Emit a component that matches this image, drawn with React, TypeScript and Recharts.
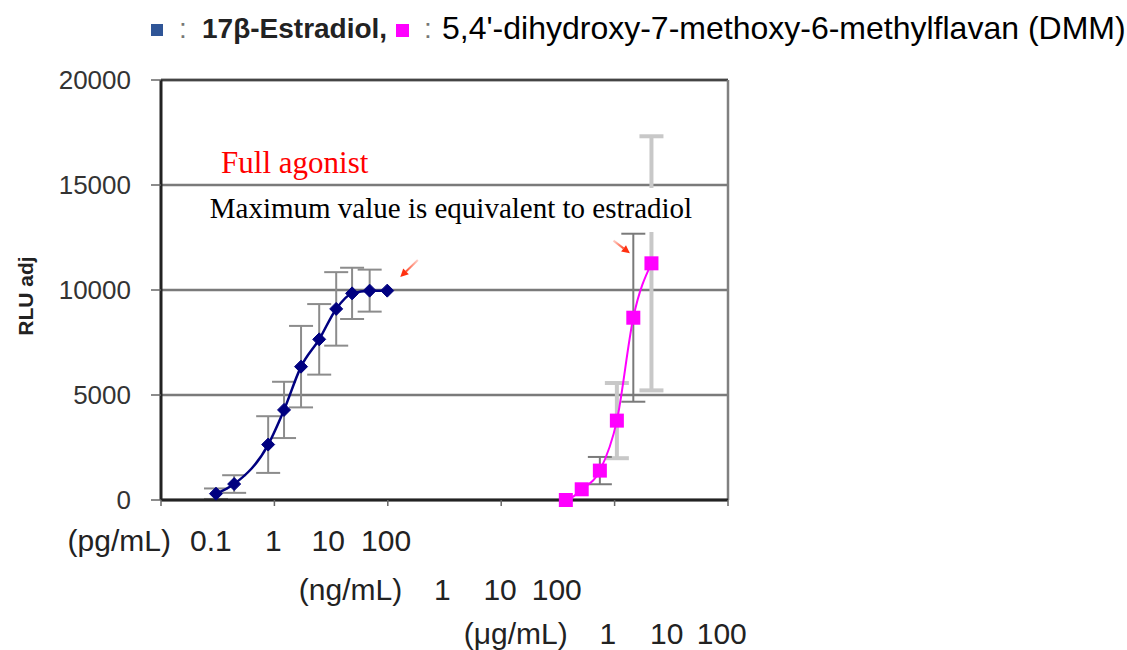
import React from 'react';
import {
  ComposedChart,
  Line,
  XAxis,
  YAxis,
  CartesianGrid,
  ErrorBar,
  ReferenceLine,
  ReferenceDot,
} from 'recharts';

// x values are in decade units along the (schematic) log concentration axis, 0..10
const e2X = [0.97, 1.29, 1.89, 2.17, 2.47, 2.79, 3.09, 3.37, 3.68, 3.99];
const e2Y = [300, 760, 2640, 4290, 6350, 7650, 9100, 9840, 9970, 9970];
const e2Err = [250, 420, 1350, 1340, 1940, 1680, 1750, 1220, 1000, null];

const dmmX = [6.54, 7.14, 7.42, 7.74, 8.04, 8.33, 8.65];
const dmmY = [0, 0, 510, 1400, 3780, 8680, 11270];
const dmmErrDark = [null, null, null, 650, null, 4000, null];
const dmmErrLight = [null, null, null, null, 1790, null, 6050];

const yTicks = [0, 5000, 10000, 15000, 20000];
const xTicks = [0, 2, 4, 6, 8, 10];

const pgPos = [0.88, 1.98, 2.95, 3.97];
const pgLab = ['0.1', '1', '10', '100'];
const ngPos = [4.96, 5.98, 6.98];
const ngLab = ['1', '10', '100'];
const ugPos = [7.88, 8.92, 9.89];
const ugLab = ['1', '10', '100'];

const legendE2 = '17β-Estradiol,';
const legendDMM = "5,4'-dihydroxy-7-methoxy-6-methylflavan (DMM)";

const e2Data = e2X.map((x, i) => ({ x, y: e2Y[i], err: e2Err[i] }));
const dmmData = dmmX.map((x, i) => ({
  x,
  y: dmmY[i],
  errDark: dmmErrDark[i],
  errLight: dmmErrLight[i],
}));

const labelRows = [
  { pos: pgPos, lab: pgLab, unit: '(pg/mL)', dy: 51 },
  { pos: ngPos, lab: ngLab, unit: '(ng/mL)', dy: 100 },
  { pos: ugPos, lab: ugLab, unit: '(μg/mL)', dy: 144 },
];

const Diamond = (p: any) => {
  const { cx, cy } = p;
  if (cx == null || cy == null) return <g />;
  const r = 6.5;
  return (
    <polygon
      points={`${cx},${cy - r} ${cx + r},${cy} ${cx},${cy + r} ${cx - r},${cy}`}
      fill="#000080"
      stroke="#000080"
      strokeWidth={1}
    />
  );
};

const Square = (p: any) => {
  const { cx, cy, index } = p;
  if (cx == null || cy == null || index === 0) return <g key={`sq${index}`} />;
  const s = 14;
  return <rect key={`sq${index}`} x={cx - s / 2} y={cy - s / 2} width={s} height={s} fill="#ff00ff" />;
};

const XLabel = ({ cx, cy, dy, text, unit }: any) => {
  if (cx == null || cy == null) return <g />;
  return (
    <g>
      {unit && (
        <text x={cx - 40} y={cy + dy} textAnchor="end" fontSize={30} fill="#222" fontFamily="Liberation Sans">
          {unit}
        </text>
      )}
      <text x={cx} y={cy + dy} textAnchor="middle" fontSize={30} fill="#222" fontFamily="Liberation Sans">
        {text}
      </text>
    </g>
  );
};

const Arrow = (props: any) => {
  const { x1, y1, x2, y2, gid } = props;
  if ([x1, y1, x2, y2].some((v) => v == null || isNaN(v))) return <g />;
  const ang = Math.atan2(y2 - y1, x2 - x1);
  const L = 8;
  const W = 4;
  const c = Math.cos(ang);
  const s = Math.sin(ang);
  const bx = x2 - L * c;
  const by = y2 - L * s;
  return (
    <g>
      <defs>
        <linearGradient id={gid} gradientUnits="userSpaceOnUse" x1={x1} y1={y1} x2={bx} y2={by}>
          <stop offset="0" stopColor="#ffd0c8" />
          <stop offset="1" stopColor="#ff5030" />
        </linearGradient>
      </defs>
      <line x1={x1} y1={y1} x2={bx} y2={by} stroke={`url(#${gid})`} strokeWidth={2} />
      <polygon
        points={`${x2},${y2} ${bx + W * s},${by - W * c} ${bx - W * s},${by + W * c}`}
        fill="#ff3010"
      />
    </g>
  );
};

export default function App() {
  return (
    <div
      style={{
        position: 'absolute',
        left: 0,
        top: 0,
        width: 1127,
        height: 650,
        background: '#fff',
        fontFamily: 'Liberation Sans',
      }}
    >
      <ComposedChart
        width={1127}
        height={650}
        margin={{ top: 80, right: 399, bottom: 0, left: 0 }}
      >
        <CartesianGrid
          xAxisId="main"
          vertical={false}
          stroke="#7a7a7a"
          strokeWidth={2.5}
        />
        <XAxis
          xAxisId="main"
          type="number"
          dataKey="x"
          domain={[0, 10]}
          ticks={xTicks}
          interval={0}
          height={150}
          axisLine={{ stroke: '#222', strokeWidth: 3 }}
          tickLine={{ stroke: '#666', strokeWidth: 1.5 }}
          tickSize={6}
          tick={() => <g />}
        />
        <YAxis
          type="number"
          domain={[0, 20000]}
          ticks={yTicks}
          interval={0}
          width={161}
          axisLine={{ stroke: '#222', strokeWidth: 3 }}
          tickLine={{ stroke: '#666', strokeWidth: 1.5 }}
          tickSize={10}
          tickMargin={20}
          tick={{ fontSize: 26, fill: '#333', fontFamily: 'Liberation Sans' }}
          label={(p: any) => {
            const vb = p.viewBox || { x: 0, y: 80, height: 420 };
            const cy = vb.y + vb.height / 2 + 6;
            return (
              <text
                x={25}
                y={cy}
                transform={`rotate(-90, 25, ${cy})`}
                textAnchor="middle"
                dominantBaseline="central"
                fontSize={21}
                fontWeight="bold"
                fill="#222"
                fontFamily="Liberation Sans"
              >
                RLU adj
              </text>
            );
          }}
        />
        <ReferenceLine xAxisId="main" y={20000} stroke="#444" strokeWidth={2.5} />
        <ReferenceLine xAxisId="main" x={10} stroke="#808080" strokeWidth={2.5} />

        <Line
          xAxisId="main"
          data={e2Data}
          dataKey="y"
          type="monotone"
          stroke="#000080"
          strokeWidth={2.5}
          dot={(p: any) => <Diamond key={`d${p.index}`} {...p} />}
          activeDot={false}
          isAnimationActive={false}
        >
          <ErrorBar dataKey="err" width={12} stroke="#8c8c8c" strokeWidth={2} direction="y" />
        </Line>

        <Line
          xAxisId="main"
          data={dmmData}
          dataKey="y"
          type="monotone"
          stroke="none"
          dot={false}
          activeDot={false}
          isAnimationActive={false}
        >
          <ErrorBar dataKey="errLight" width={12} stroke="#c8c8c8" strokeWidth={4} direction="y" />
        </Line>
        <Line
          xAxisId="main"
          data={dmmData}
          dataKey="y"
          type="monotone"
          stroke="#ff00ff"
          strokeWidth={2}
          dot={(p: any) => <Square key={`s${p.index}`} {...p} />}
          activeDot={false}
          isAnimationActive={false}
        >
          <ErrorBar dataKey="errDark" width={12} stroke="#7a7a7a" strokeWidth={2} direction="y" />
        </Line>

        <ReferenceLine
          xAxisId="main"
          segment={[
            { x: 4.53, y: 11430 },
            { x: 4.22, y: 10620 },
          ]}
          shape={(p: any) => <Arrow {...p} gid="arrowA" />}
        />
        <ReferenceLine
          xAxisId="main"
          segment={[
            { x: 7.98, y: 12350 },
            { x: 8.27, y: 11750 },
          ]}
          shape={(p: any) => <Arrow {...p} gid="arrowB" />}
        />

        <ReferenceDot
          xAxisId="main"
          x={1.06}
          y={15571}
          shape={(p: any) => (
            <text x={p.cx} y={p.cy} fontSize={31} fill="#ff0000" fontFamily="Liberation Serif">
              Full agonist
            </text>
          )}
        />
        <ReferenceDot
          xAxisId="main"
          x={0.86}
          y={13429}
          shape={(p: any) => (
            <g>
              <rect x={p.cx - 6} y={p.cy - 30} width={500} height={44} fill="#ffffff" />
              <text x={p.cx} y={p.cy} fontSize={29} fill="#000" fontFamily="Liberation Serif">
                Maximum value is equivalent to estradiol
              </text>
            </g>
          )}
        />

        {labelRows.map((row, r) =>
          row.pos.map((x, i) => (
            <ReferenceDot
              key={`lab${r}-${i}`}
              xAxisId="main"
              x={x}
              y={0}
              ifOverflow="visible"
              shape={(p: any) => (
                <XLabel
                  cx={p.cx}
                  cy={p.cy}
                  dy={row.dy}
                  text={row.lab[i]}
                  unit={i === 0 ? row.unit : null}
                />
              )}
            />
          ))
        )}
      </ComposedChart>

      <svg
        width={1127}
        height={60}
        style={{ position: 'absolute', left: 0, top: 0 }}
        fontFamily="Liberation Sans"
      >
        <rect x={151} y={24} width={12} height={12} fill="#2f5597" />
        <text x={179} y={38} fontSize={28} fill="#777">:</text>
        <text x={202} y={38} fontSize={28} fontWeight="bold" fill="#222">
          {legendE2}
        </text>
        <rect x={396} y={24} width={13} height={13} fill="#ff00ff" />
        <text x={424} y={38} fontSize={28} fill="#777">:</text>
        <text x={442} y={39} fontSize={32} fill="#000">
          {legendDMM}
        </text>
      </svg>
    </div>
  );
}
